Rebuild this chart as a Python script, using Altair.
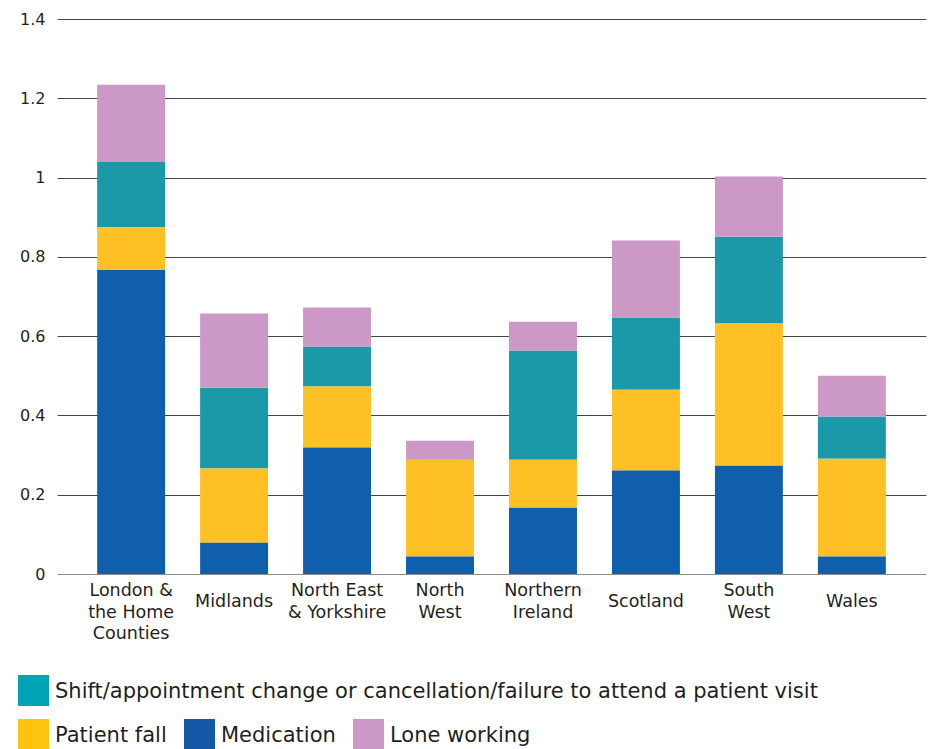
import altair as alt
import pandas as pd

# Regions (line breaks mark where each axis label wraps)
regions = [
    "London &\nthe Home\nCounties",
    "Midlands",
    "North East\n& Yorkshire",
    "North\nWest",
    "Northern\nIreland",
    "Scotland",
    "South\nWest",
    "Wales",
]

# Incident categories, in legend order
series = [
    "Shift/appointment change or cancellation/failure to attend a patient visit",
    "Patient fall",
    "Medication",
    "Lone working",
]
colors = ["#1C99A8", "#FDC125", "#105FAD", "#CC99C6"]
legend_colors = ["#00A4B4", "#FDC40F", "#1558A8", "#CC99C6"]

# Values per region for each category
shift_change = [0.164, 0.204, 0.101, 0.000, 0.276, 0.182, 0.219, 0.106]
patient_fall = [0.108, 0.187, 0.154, 0.244, 0.121, 0.204, 0.359, 0.247]
medication = [0.767, 0.079, 0.319, 0.044, 0.167, 0.261, 0.273, 0.044]
lone_working = [0.195, 0.187, 0.098, 0.048, 0.072, 0.194, 0.152, 0.103]

y_ticks = [0, 0.2, 0.4, 0.6, 0.8, 1.0, 1.2, 1.4]

# Stacking order from the baseline upwards
stack_rank = {series[2]: 0, series[1]: 1, series[0]: 2, series[3]: 3}
values_by_series = {
    series[0]: shift_change,
    series[1]: patient_fall,
    series[2]: medication,
    series[3]: lone_working,
}

rows = []
for name, vals in values_by_series.items():
    for region, v in zip(regions, vals):
        rows.append({"region": region, "series": name, "value": v, "rank": stack_rank[name]})
df = pd.DataFrame(rows)

FONT = "DejaVu Sans"
TEXT = "#1f1f1f"
W, H = 869, 555

color_scale = alt.Scale(domain=series, range=colors)
x_scale = alt.Scale(paddingInner=0.34, paddingOuter=0.39)

bars = alt.Chart(df).mark_bar().encode(
    x=alt.X("region:N", sort=regions, scale=x_scale, axis=None),
    y=alt.Y(
        "value:Q",
        stack="zero",
        scale=alt.Scale(domain=[0, 1.4], nice=False),
        axis=alt.Axis(
            values=y_ticks,
            format=".1~f",
            title=None,
            grid=True,
            # lighter baseline, darker gridlines above it
            gridColor={
                "condition": {"test": "datum.value === 0", "value": "#8c8c8c"},
                "value": "#444444",
            },
            gridWidth=1,
            domain=False,
            ticks=False,
            labelFont=FONT,
            labelFontSize=16,
            labelColor=TEXT,
            labelPadding=12,
        ),
    ),
    color=alt.Color("series:N", scale=color_scale, legend=None),
    order=alt.Order("rank:Q"),
)

# Category labels under the bars: wrapped labels start at the same top,
# single-line labels sit half a line lower
label_df = pd.DataFrame({"region": regions})
label_base = alt.Chart(label_df).mark_text(
    lineBreak="\n", baseline="top", align="center",
    font=FONT, fontSize=17.5, lineHeight=21.5, color=TEXT,
)
labels_multi = label_base.transform_filter(
    "indexof(datum.region, '\\n') >= 0"
).encode(
    x=alt.X("region:N", sort=regions, axis=None),
    y=alt.value(H + 8),
    text="region:N",
)
labels_single = label_base.transform_filter(
    "indexof(datum.region, '\\n') < 0"
).encode(
    x=alt.X("region:N", sort=regions, axis=None),
    y=alt.value(H + 19),
    text="region:N",
)

# Legend: first row holds the long category, second row the other three
legend_row = [0, 1, 1, 1]
legend_left = [-39, -39, 127, 296]
legend_text_gap = 37
legend_row_top = [H + 101, H + 145]
swatch = 31
leg = pd.DataFrame({
    "series": series,
    "x0": legend_left,
    "x1": [v + swatch for v in legend_left],
    "y0": [legend_row_top[r] for r in legend_row],
    "y1": [legend_row_top[r] + swatch for r in legend_row],
    "tx": [v + legend_text_gap for v in legend_left],
    "ty": [legend_row_top[r] + swatch / 2 + 1 for r in legend_row],
})
legend_swatches = alt.Chart(leg).mark_rect().encode(
    x=alt.X("x0:Q", scale=None, axis=None),
    x2="x1:Q",
    y=alt.Y("y0:Q", scale=None, axis=None),
    y2="y1:Q",
    color=alt.Color(
        "series:N", scale=alt.Scale(domain=series, range=legend_colors), legend=None
    ),
)
legend_labels = alt.Chart(leg).mark_text(
    align="left", baseline="middle", font=FONT, fontSize=21, color=TEXT
).encode(
    x=alt.X("tx:Q", scale=None, axis=None),
    y=alt.Y("ty:Q", scale=None, axis=None),
    text="series:N",
)

chart = (
    alt.layer(bars, labels_multi, labels_single, legend_swatches, legend_labels)
    .resolve_scale(color="independent")
    .properties(
        width=W,
        height=H,
        autosize=alt.AutoSizeParams(type="none"),
        padding={"left": 57, "top": 19, "right": 2, "bottom": 175},
    )
    .configure(font=FONT, background="white")
    .configure_view(strokeWidth=0, stroke="transparent")
    .configure_axis(domain=False, ticks=False)
)

chart.save("out.html", embed_options={"renderer": "svg", "actions": False})
